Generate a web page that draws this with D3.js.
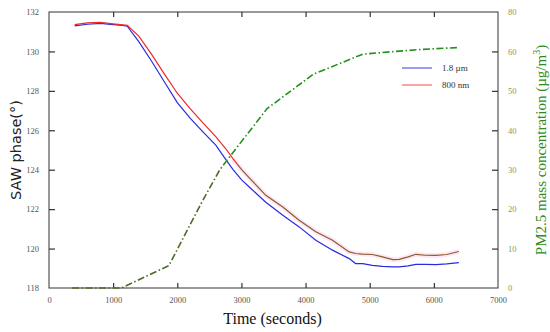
<!DOCTYPE html>
<html>
<head>
<meta charset="utf-8">
<script src="https://cdn.jsdelivr.net/npm/d3@7"></script>
<style>
  body { margin: 0; background: #fff; }
  svg { display: block; }
</style>
</head>
<body>
<div id="chart"></div>
<script>
// SAW phase readings (left axis)
const sawTime = [400, 600, 800, 1000, 1150, 1220, 1400, 1600, 1800, 2000, 2200, 2400, 2600, 2760, 2870, 3000, 3130, 3380, 3640, 3900, 4160, 4420, 4680, 4780, 4890, 5040, 5200, 5360, 5460, 5600, 5720, 5870, 6030, 6200, 6390];
const saw18um = [131.30, 131.38, 131.42, 131.36, 131.32, 131.28, 130.50, 129.50, 128.45, 127.40, 126.62, 125.92, 125.25, 124.50, 124.00, 123.50, 123.10, 122.35, 121.70, 121.10, 120.42, 119.92, 119.49, 119.24, 119.24, 119.15, 119.10, 119.07, 119.07, 119.12, 119.20, 119.20, 119.19, 119.22, 119.29];
const saw800nm = [131.36, 131.45, 131.47, 131.40, 131.35, 131.32, 130.78, 129.85, 128.85, 127.88, 127.10, 126.38, 125.68, 125.05, 124.55, 124.02, 123.56, 122.70, 122.12, 121.44, 120.85, 120.42, 119.83, 119.75, 119.72, 119.70, 119.58, 119.44, 119.45, 119.58, 119.71, 119.66, 119.65, 119.70, 119.85];

// PM2.5 concentration (right axis)
const pmTime = [360, 1130, 1870, 2400, 2660, 2780, 3400, 4120, 4890, 5400, 5800, 6390];
const pmConc = [0, 0, 5.7, 22.3, 29.9, 32.5, 45.5, 54.2, 59.3, 60.0, 60.5, 61.0];

// axes
const xTicks = [0, 1000, 2000, 3000, 4000, 5000, 6000, 7000];
const leftTicks = [118, 120, 122, 124, 126, 128, 130, 132];
const rightTicks = [0, 10, 20, 30, 40, 50, 60, 70];
const rightTickLabels = ['0', '10', '20', '30', '40', '50', '60', '80'];
const legendLabels = ['1.8 \u00b5m', '800 nm'];

const width = 550, height = 332;
const margin = {top: 12, right: 52, bottom: 44, left: 49};

const svg = d3.select('#chart').append('svg')
  .attr('width', width)
  .attr('height', height);

const x = d3.scaleLinear().domain([0, 7000]).range([margin.left, width - margin.right]);
const yL = d3.scaleLinear().domain([118, 132]).range([height - margin.bottom, margin.top]);
const yR = d3.scaleLinear().domain([0, 70]).range([height - margin.bottom, margin.top]);

const axisColor = '#333';
const serif = '"Liberation Serif", "Times New Roman", serif';

// colour switches seen in the picture
const defs = svg.append('defs');
const redGrad = defs.append('linearGradient')
  .attr('id', 'redGrad')
  .attr('gradientUnits', 'userSpaceOnUse')
  .attr('x1', x(0)).attr('x2', x(7000)).attr('y1', 0).attr('y2', 0);
const switchOff = (x(2950) - x(0)) / (x(7000) - x(0));
redGrad.append('stop').attr('offset', switchOff).attr('stop-color', '#f02828');
redGrad.append('stop').attr('offset', switchOff).attr('stop-color', '#8c5a32');

const greenGrad = defs.append('linearGradient')
  .attr('id', 'greenGrad')
  .attr('gradientUnits', 'userSpaceOnUse')
  .attr('x1', 0).attr('x2', 0).attr('y1', yR(0)).attr('y2', yR(70));
const gOff = (yR(0) - yR(31)) / (yR(0) - yR(70));
greenGrad.append('stop').attr('offset', gOff).attr('stop-color', '#4e6a26');
greenGrad.append('stop').attr('offset', gOff).attr('stop-color', '#23901f');

const g = svg.append('g');

// frame
g.append('rect')
  .attr('x', x(0)).attr('y', yL(132))
  .attr('width', x(7000) - x(0)).attr('height', yL(118) - yL(132))
  .attr('fill', 'none').attr('stroke', axisColor).attr('stroke-width', 1);

// bottom axis, ticks inward
const xAxis = g.append('g')
  .attr('transform', `translate(0,${yL(118)})`)
  .call(d3.axisBottom(x).tickValues(xTicks).tickSize(-5).tickPadding(9).tickFormat(d3.format('d')));
// top axis ticks
const xAxisTop = g.append('g')
  .attr('transform', `translate(0,${yL(132)})`)
  .call(d3.axisTop(x).tickValues(xTicks.slice(1, -1)).tickSize(-5).tickFormat(''));

const yAxisL = g.append('g')
  .attr('transform', `translate(${x(0)},0)`)
  .call(d3.axisLeft(yL).tickValues(leftTicks).tickSize(-6).tickPadding(10).tickFormat(d3.format('d')));

const yAxisR = g.append('g')
  .attr('transform', `translate(${x(7000)},0)`)
  .call(d3.axisRight(yR).tickValues(rightTicks).tickSize(-6).tickPadding(10).tickFormat((d, i) => rightTickLabels[i]));

[xAxis, xAxisTop, yAxisL, yAxisR].forEach(a => {
  a.select('.domain').remove();
  a.selectAll('line').attr('stroke', axisColor).attr('stroke-width', 1.2);
  a.selectAll('text').attr('font-family', serif).attr('font-size', 8.5).attr('fill', '#555');
});
yAxisR.selectAll('text').attr('fill', '#7f9a5c');
// corner ticks are just the frame
xAxis.selectAll('.tick line').filter(d => d === 0 || d === 7000).remove();
yAxisL.selectAll('.tick line').filter(d => d === 118 || d === 132).remove();
yAxisR.selectAll('.tick line').filter(d => d === 0 || d === 70).remove();

// lines
const sawPts = sawTime.map((t, i) => ({t, a: saw18um[i], b: saw800nm[i]}));
const lineA = d3.line().x(d => x(d.t)).y(d => yL(d.a));
const lineB = d3.line().x(d => x(d.t)).y(d => yL(d.b));

// faint pink haze round the brown part
g.append('path')
  .datum(sawPts.filter(d => d.t >= 2870))
  .attr('d', lineB)
  .attr('fill', 'none')
  .attr('stroke', '#fde8f2')
  .attr('stroke-width', 5)
  .attr('stroke-linejoin', 'round');

g.append('path')
  .datum(sawPts)
  .attr('d', lineA)
  .attr('fill', 'none')
  .attr('stroke', '#2a2ae0')
  .attr('stroke-width', 1.2);

g.append('path')
  .datum(sawPts)
  .attr('d', lineB)
  .attr('fill', 'none')
  .attr('stroke', 'url(#redGrad)')
  .attr('stroke-width', 1.2);

const pmLine = d3.line().x((t, i) => x(t)).y((t, i) => yR(pmConc[i]));
g.append('path')
  .datum(pmTime)
  .attr('d', pmLine)
  .attr('fill', 'none')
  .attr('stroke', 'url(#greenGrad)')
  .attr('stroke-width', 1.6)
  .attr('stroke-dasharray', '7,2.5,1.5,2.5');

// legend
const legendColors = ['#3a3ae6', '#f04a4a'];
const legend = g.append('g');
legendLabels.forEach((lab, i) => {
  const ly = 68 + i * 17;
  legend.append('line')
    .attr('x1', 402).attr('x2', 432).attr('y1', ly).attr('y2', ly)
    .attr('stroke', legendColors[i]).attr('stroke-width', 1);
  legend.append('text')
    .attr('x', 442).attr('y', ly + 3)
    .attr('font-family', serif).attr('font-size', 9).attr('fill', '#333')
    .text(lab);
});

// titles
svg.append('text')
  .attr('x', (x(0) + x(7000)) / 2 - 1)
  .attr('y', 324)
  .attr('text-anchor', 'middle')
  .attr('font-family', serif)
  .attr('font-size', 16)
  .attr('fill', '#111')
  .text('Time (seconds)');

svg.append('text')
  .attr('transform', `translate(21,${(yL(118) + yL(132)) / 2}) rotate(-90)`)
  .attr('text-anchor', 'middle')
  .attr('font-family', '"DejaVu Sans", Verdana, sans-serif')
  .attr('font-size', 14.5)
  .attr('fill', '#222')
  .text('SAW phase(\u00b0)');

const rt = svg.append('text')
  .attr('transform', `translate(546,${(yL(118) + yL(132)) / 2}) rotate(-90)`)
  .attr('text-anchor', 'middle')
  .attr('font-family', serif)
  .attr('font-size', 15)
  .attr('fill', '#2f8a22');
rt.append('tspan').text('PM2.5 mass concentration (\u00b5g/m');
rt.append('tspan').attr('font-size', 10).attr('dy', -6).text('3');
rt.append('tspan').attr('dy', 6).text(')');
</script>
</body>
</html>
